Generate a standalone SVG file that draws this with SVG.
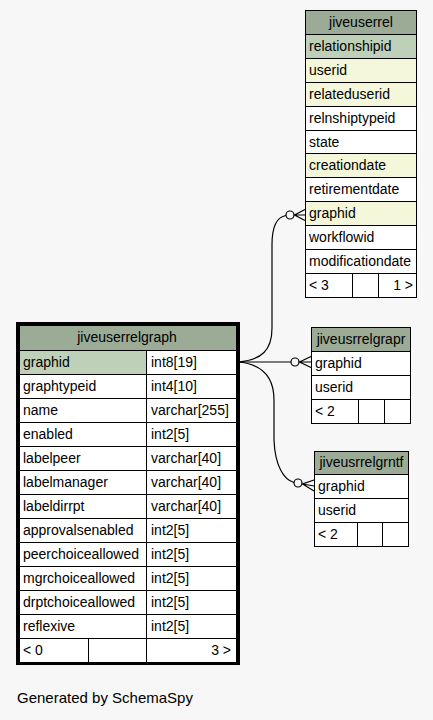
<svg xmlns="http://www.w3.org/2000/svg" width="433" height="720" viewBox="0 0 433 720">
<style>
text{font-family:"Liberation Sans",Arial,sans-serif;font-size:14px;fill:#000}
.c{stroke:#000;stroke-width:1}
.h{fill:#9bab96}
.pk{fill:#bed1b8}
.fk{fill:#f4f7da}
.w{fill:#ffffff}
.mid{text-anchor:middle}
.end{text-anchor:end}
.e{fill:none;stroke:#000;stroke-width:1.2}
</style>
<rect x="0" y="0" width="433" height="720" fill="#f7f7f7"/>
<g id="connectors">
<path class="e" d="M238,362 C262,360 272,350 272,328 L272,245 C272,228 276,217 286,215.5"/>
<circle class="e" cx="290" cy="215" r="4"/>
<path class="e" d="M305,209.5 L294.5,215 L305,220.5 M294.5,215 L305,215"/>
<path class="e" d="M238,362 L291,362"/>
<circle class="e" cx="295" cy="362" r="4"/>
<path class="e" d="M311,356.5 L299.5,362 L311,367.5 M299.5,362 L311,362"/>
<path class="e" d="M238,362 C262,364 274,376 274,400 L274,440 C275,466 284,480 294,482.5"/>
<circle class="e" cx="298" cy="483" r="4"/>
<path class="e" d="M314,480 L302.5,484 L314,491 M302.5,484 L314,486"/>
</g>
<g id="jiveuserrel">
<rect class="c h" x="305.5" y="10.5" width="111" height="24"/>
<rect class="c pk" x="305.5" y="34.5" width="111" height="24"/>
<rect class="c fk" x="305.5" y="58.5" width="111" height="24"/>
<rect class="c fk" x="305.5" y="82.5" width="111" height="24"/>
<rect class="c w" x="305.5" y="106.5" width="111" height="24"/>
<rect class="c w" x="305.5" y="130.5" width="111" height="23"/>
<rect class="c fk" x="305.5" y="153.5" width="111" height="24"/>
<rect class="c w" x="305.5" y="177.5" width="111" height="24"/>
<rect class="c fk" x="305.5" y="201.5" width="111" height="24"/>
<rect class="c w" x="305.5" y="225.5" width="111" height="24"/>
<rect class="c w" x="305.5" y="249.5" width="111" height="24"/>
<rect class="c w" x="305.5" y="273.5" width="47" height="24"/>
<rect class="c w" x="352.5" y="273.5" width="26" height="24"/>
<rect class="c w" x="378.5" y="273.5" width="38" height="24"/>
<text class="mid" x="361" y="27">jiveuserrel</text>
<text x="309" y="51">relationshipid</text>
<text x="309" y="75">userid</text>
<text x="309" y="99">relateduserid</text>
<text x="309" y="123">relnshiptypeid</text>
<text x="309" y="147">state</text>
<text x="309" y="170">creationdate</text>
<text x="309" y="194">retirementdate</text>
<text x="309" y="218">graphid</text>
<text x="309" y="242">workflowid</text>
<text x="309" y="266">modificationdate</text>
<text x="309" y="290">&lt; 3</text>
<text class="end" x="413" y="290">1 &gt;</text>
</g>
<g id="jiveuserrelgraph">
<rect class="c h" x="19.5" y="325.5" width="217" height="25"/>
<rect class="c pk" x="19.5" y="350.5" width="127" height="24"/>
<rect class="c w" x="146.5" y="350.5" width="90" height="24"/>
<rect class="c w" x="19.5" y="374.5" width="127" height="24"/>
<rect class="c w" x="146.5" y="374.5" width="90" height="24"/>
<rect class="c w" x="19.5" y="398.5" width="127" height="24"/>
<rect class="c w" x="146.5" y="398.5" width="90" height="24"/>
<rect class="c w" x="19.5" y="422.5" width="127" height="24"/>
<rect class="c w" x="146.5" y="422.5" width="90" height="24"/>
<rect class="c w" x="19.5" y="446.5" width="127" height="24"/>
<rect class="c w" x="146.5" y="446.5" width="90" height="24"/>
<rect class="c w" x="19.5" y="470.5" width="127" height="24"/>
<rect class="c w" x="146.5" y="470.5" width="90" height="24"/>
<rect class="c w" x="19.5" y="494.5" width="127" height="24"/>
<rect class="c w" x="146.5" y="494.5" width="90" height="24"/>
<rect class="c w" x="19.5" y="518.5" width="127" height="24"/>
<rect class="c w" x="146.5" y="518.5" width="90" height="24"/>
<rect class="c w" x="19.5" y="542.5" width="127" height="24"/>
<rect class="c w" x="146.5" y="542.5" width="90" height="24"/>
<rect class="c w" x="19.5" y="566.5" width="127" height="24"/>
<rect class="c w" x="146.5" y="566.5" width="90" height="24"/>
<rect class="c w" x="19.5" y="590.5" width="127" height="24"/>
<rect class="c w" x="146.5" y="590.5" width="90" height="24"/>
<rect class="c w" x="19.5" y="614.5" width="127" height="24"/>
<rect class="c w" x="146.5" y="614.5" width="90" height="24"/>
<rect class="c w" x="19.5" y="638.5" width="69" height="24"/>
<rect class="c w" x="88.5" y="638.5" width="58" height="24"/>
<rect class="c w" x="146.5" y="638.5" width="90" height="24"/>
<rect x="17.5" y="323.5" width="221" height="340" fill="none" stroke="#000" stroke-width="3"/>
<text class="mid" x="127" y="342">jiveuserrelgraph</text>
<text x="23" y="367">graphid</text><text x="151" y="367">int8[19]</text>
<text x="23" y="391">graphtypeid</text><text x="151" y="391">int4[10]</text>
<text x="23" y="415">name</text><text x="151" y="415">varchar[255]</text>
<text x="23" y="439">enabled</text><text x="151" y="439">int2[5]</text>
<text x="23" y="463">labelpeer</text><text x="151" y="463">varchar[40]</text>
<text x="23" y="487">labelmanager</text><text x="151" y="487">varchar[40]</text>
<text x="23" y="511">labeldirrpt</text><text x="151" y="511">varchar[40]</text>
<text x="23" y="535">approvalsenabled</text><text x="151" y="535">int2[5]</text>
<text x="23" y="559">peerchoiceallowed</text><text x="151" y="559">int2[5]</text>
<text x="23" y="583">mgrchoiceallowed</text><text x="151" y="583">int2[5]</text>
<text x="23" y="607">drptchoiceallowed</text><text x="151" y="607">int2[5]</text>
<text x="23" y="631">reflexive</text><text x="151" y="631">int2[5]</text>
<text x="23" y="655">&lt; 0</text><text class="end" x="231" y="655">3 &gt;</text>
</g>
<g id="jiveusrrelgrapr">
<rect class="c h" x="311.5" y="327.5" width="99" height="24"/>
<rect class="c w" x="311.5" y="351.5" width="99" height="24"/>
<rect class="c w" x="311.5" y="375.5" width="99" height="24"/>
<rect class="c w" x="311.5" y="399.5" width="47" height="24"/>
<rect class="c w" x="358.5" y="399.5" width="26" height="24"/>
<rect class="c w" x="384.5" y="399.5" width="26" height="24"/>
<text class="mid" x="361" y="344">jiveusrrelgrapr</text>
<text x="315" y="368">graphid</text>
<text x="315" y="392">userid</text>
<text x="315" y="416">&lt; 2</text>
</g>
<g id="jiveusrrelgrntf">
<rect class="c h" x="314.5" y="451.5" width="94" height="23"/>
<rect class="c w" x="314.5" y="474.5" width="94" height="24"/>
<rect class="c w" x="314.5" y="498.5" width="94" height="24"/>
<rect class="c w" x="314.5" y="522.5" width="43" height="24"/>
<rect class="c w" x="357.5" y="522.5" width="25" height="24"/>
<rect class="c w" x="382.5" y="522.5" width="26" height="24"/>
<text class="mid" x="361.5" y="467">jiveusrrelgrntf</text>
<text x="318" y="491">graphid</text>
<text x="318" y="515">userid</text>
<text x="318" y="539">&lt; 2</text>
</g>
<text x="17" y="703" style="font-size:15px">Generated by SchemaSpy</text>
</svg>
